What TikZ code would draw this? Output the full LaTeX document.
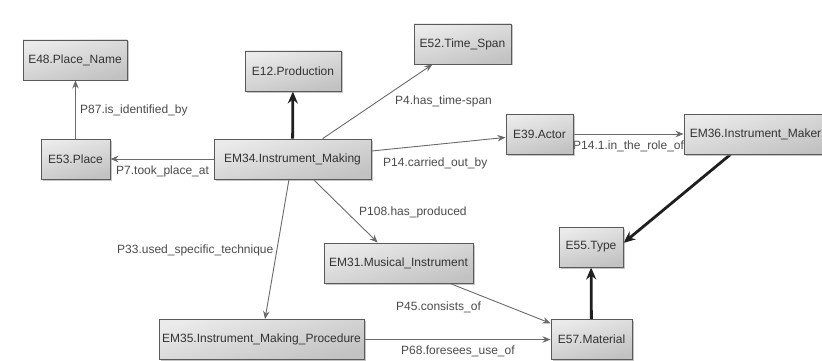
\documentclass[tikz,border=0pt]{standalone}
\usepackage{fontspec}
\setmainfont{Liberation Sans}
\usetikzlibrary{arrows.meta,shadows,backgrounds}
\definecolor{cgline}{HTML}{6A6A6A}
\definecolor{cgtext}{HTML}{333333}
\definecolor{cglabel}{HTML}{4A4A4A}
\definecolor{cgborder}{HTML}{5A5A5A}
\begin{document}
\begin{tikzpicture}[
  x=1pt, y=-1pt,
  cls/.style={draw=cgborder, line width=0.9pt, top color=black!8, bottom color=black!24,
              shading angle=15, text=cgtext, font=\fontsize{12}{14}\selectfont,
              minimum height=40pt, inner sep=0pt,
              drop shadow={shadow xshift=1.5pt, shadow yshift=-1.5pt, fill=black!45, opacity=0.5}},
  prop/.style={font=\fontsize{12}{14}\selectfont, text=cglabel, inner sep=0pt, anchor=west},
  link/.style={-{Stealth[length=8pt,width=6.5pt]}, line width=0.9pt, draw=cgline},
  isa/.style={-{Stealth[length=12pt,width=10pt]}, line width=2.8pt, draw=black!88}
]
\useasboundingbox (0,0) rectangle (822,361);
% classes
\node[cls, minimum width=104pt] (placename) at (75,60) {E48.Place\_Name};
\node[cls, minimum width=96pt] (production) at (293,71) {E12.Production};
\node[cls, minimum width=69pt] (place) at (75.5,159) {E53.Place};
\node[cls, minimum width=157pt] (making) at (292.5,159) {EM34.Instrument\_Making};
\node[cls, minimum width=97pt] (timespan) at (462.5,44) {E52.Time\_Span};
\node[cls, minimum width=67pt] (actor) at (539.5,134) {E39.Actor};
\node[cls, minimum width=143pt] (maker) at (755.5,134) {EM36.Instrument\_Maker};
\node[cls, minimum width=149pt] (instrument) at (398.5,263) {EM31.Musical\_Instrument};
\node[cls, minimum width=64pt] (type) at (591,247) {E55.Type};
\node[cls, minimum width=81pt] (material) at (591.5,339.5) {E57.Material};
\node[cls, minimum width=205pt] (procedure) at (261.5,339.5) {EM35.Instrument\_Making\_Procedure};
% properties
\begin{scope}[on background layer]
\draw[link] (place) -- (place |- placename.south);
\draw[link] (making) -- (place);
\draw[isa] (making) -- (production);
\draw[link] (making) -- (timespan);
\draw[link] (making) -- (actor);
\draw[link] (actor) -- (maker);
\draw[isa] ([xshift=-25pt]maker.south) -- ([yshift=4pt]type.east);
\draw[link] (making) -- (instrument);
\draw[link] (making) -- (procedure);
\draw[link] (instrument) -- (material);
\draw[link] (procedure) -- (material);
\draw[isa] (material) -- (type);
\node[prop] (p87) at (80,110) {P87.is\_identified\_by};
\node[prop] (p7) at (116,171) {P7.took\_place\_at};
\node[prop] (p4) at (395,101) {P4.has\_time-span};
\node[prop] (p14) at (383,163) {P14.carried\_out\_by};
\node[prop] (p141) at (573,146) {P14.1.in\_the\_role\_of};
\node[prop] (p108) at (359,212) {P108.has\_produced};
\node[prop] (p33) at (117,250) {P33.used\_specific\_technique};
\node[prop] (p45) at (396,307) {P45.consists\_of};
\node[prop] (p68) at (401,351) {P68.foresees\_use\_of};
\end{scope}
\end{tikzpicture}
\end{document}
